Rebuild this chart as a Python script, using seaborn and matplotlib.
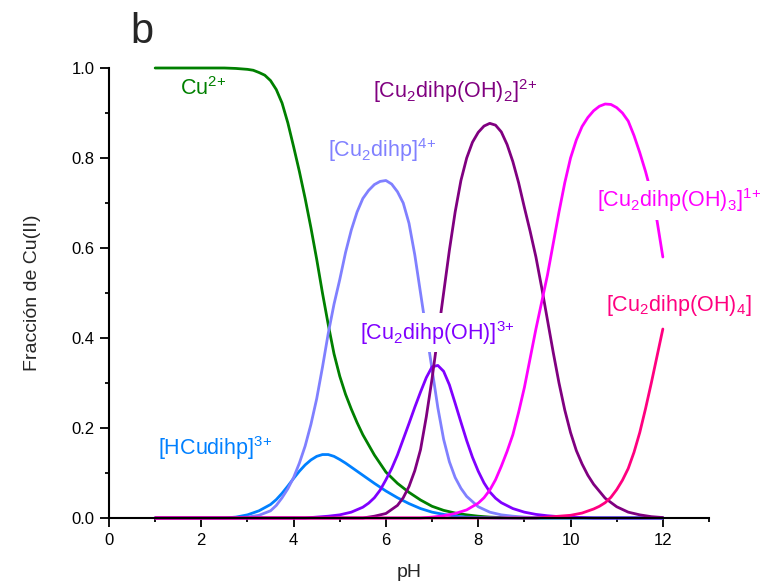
import matplotlib
matplotlib.use("Agg")
import matplotlib.pyplot as plt
import pandas as pd
import seaborn as sns
from matplotlib.ticker import MultipleLocator

# ---------------- data ----------------
# Cu2+
cu_ph = [1.0, 2.0, 2.5, 2.75, 3.0, 3.125, 3.25, 3.375, 3.5, 3.625, 3.75, 3.875,
         4.0, 4.125, 4.25, 4.375, 4.5, 4.625, 4.75, 4.875, 5.0, 5.125, 5.25,
         5.375, 5.5, 5.75, 6.0, 6.25, 6.5, 6.75, 7.0, 7.25, 7.5, 7.75, 8.0,
         8.25, 8.5, 9.0, 12.0]
cu_fr = [1.0, 1.0, 1.0, 0.999, 0.997, 0.995, 0.99, 0.984, 0.972, 0.952, 0.922, 0.878,
         0.825, 0.77, 0.71, 0.645, 0.575, 0.50, 0.43, 0.365, 0.315, 0.275, 0.242,
         0.212, 0.185, 0.14, 0.102, 0.077, 0.057, 0.04, 0.026, 0.017, 0.011, 0.007, 0.004,
         0.002, 0.001, 0.0, 0.0]

# [HCudihp]3+
hcu_ph = [1.0, 2.5, 2.75, 3.0, 3.25, 3.5, 3.625, 3.75, 3.875, 4.0, 4.125, 4.25,
          4.375, 4.5, 4.625, 4.75, 4.875, 5.0, 5.125, 5.25, 5.5, 5.75, 6.0, 6.25,
          6.5, 6.75, 7.0, 7.25, 7.5, 7.75, 8.0, 8.5, 12.0]
hcu_fr = [0.0, 0.0, 0.002, 0.007, 0.016, 0.03, 0.041, 0.055, 0.071, 0.088, 0.104, 0.118,
          0.129, 0.137, 0.141, 0.141, 0.137, 0.13, 0.122, 0.113, 0.095, 0.077, 0.06, 0.045,
          0.032, 0.021, 0.013, 0.008, 0.004, 0.002, 0.001, 0.0, 0.0]

# [Cu2dihp]4+
c2_ph = [1.0, 2.75, 3.0, 3.25, 3.5, 3.625, 3.75, 3.875, 4.0, 4.125, 4.25, 4.375,
         4.5, 4.625, 4.75, 4.875, 5.0, 5.125, 5.25, 5.375, 5.5, 5.625, 5.75, 5.875,
         6.0, 6.125, 6.25, 6.375, 6.5, 6.625, 6.75, 6.875, 7.0, 7.125, 7.25, 7.375,
         7.5, 7.625, 7.75, 8.0, 8.25, 8.5, 8.75, 9.0, 9.25, 9.5, 12.0]
c2_fr = [0.0, 0.0, 0.002, 0.006, 0.016, 0.028, 0.045, 0.065, 0.09, 0.122, 0.16, 0.208,
         0.265, 0.335, 0.41, 0.475, 0.53, 0.59, 0.64, 0.68, 0.71, 0.728, 0.741, 0.748,
         0.75, 0.742, 0.725, 0.70, 0.655, 0.585, 0.50, 0.415, 0.33, 0.245, 0.175, 0.125,
         0.09, 0.066, 0.048, 0.025, 0.013, 0.007, 0.004, 0.002, 0.001, 0.0, 0.0]

# [Cu2dihp(OH)]3+
oh1_ph = [1.0, 4.25, 4.5, 4.75, 5.0, 5.25, 5.5, 5.625, 5.75, 5.875, 6.0, 6.125,
          6.25, 6.375, 6.5, 6.625, 6.75, 6.875, 7.0, 7.125, 7.25, 7.375, 7.5, 7.625,
          7.75, 7.875, 8.0, 8.125, 8.25, 8.375, 8.5, 8.75, 9.0, 9.25, 9.5, 9.75,
          10.0, 10.25, 10.5, 12.0]
oh1_fr = [0.0, 0.0, 0.002, 0.004, 0.007, 0.013, 0.024, 0.033, 0.045, 0.062, 0.085, 0.11,
          0.14, 0.175, 0.21, 0.246, 0.28, 0.312, 0.336, 0.339, 0.326, 0.296, 0.255, 0.213,
          0.172, 0.135, 0.104, 0.078, 0.058, 0.044, 0.034, 0.021, 0.013, 0.008, 0.005, 0.003,
          0.002, 0.001, 0.0, 0.0]

# [Cu2dihp(OH)2]2+
oh2_ph = [1.0, 5.5, 5.75, 6.0, 6.25, 6.375, 6.5, 6.625, 6.75, 6.875, 7.0, 7.125,
          7.25, 7.375, 7.5, 7.625, 7.75, 7.875, 8.0, 8.125, 8.25, 8.375, 8.5, 8.625,
          8.75, 8.875, 9.0, 9.125, 9.25, 9.375, 9.5, 9.625, 9.75, 9.875, 10.0, 10.125,
          10.25, 10.375, 10.5, 10.75, 11.0, 11.25, 11.5, 11.75, 12.0]
oh2_fr = [0.0, 0.0, 0.004, 0.01, 0.028, 0.045, 0.07, 0.105, 0.152, 0.225, 0.31, 0.405,
          0.50, 0.595, 0.68, 0.75, 0.80, 0.835, 0.857, 0.871, 0.877, 0.873, 0.858, 0.83,
          0.792, 0.745, 0.69, 0.637, 0.58, 0.512, 0.44, 0.368, 0.30, 0.24, 0.19, 0.15,
          0.12, 0.095, 0.075, 0.044, 0.025, 0.013, 0.007, 0.003, 0.001]

# [Cu2dihp(OH)3]1+
oh3_ph = [1.0, 6.75, 7.0, 7.25, 7.5, 7.75, 8.0, 8.125, 8.25, 8.375, 8.5, 8.625,
          8.75, 8.875, 9.0, 9.125, 9.25, 9.375, 9.5, 9.625, 9.75, 9.875, 10.0, 10.125,
          10.25, 10.375, 10.5, 10.625, 10.75, 10.875, 11.0, 11.125, 11.25, 11.375, 11.5, 11.625,
          11.75, 11.875, 12.0]
oh3_fr = [0.0, 0.0, 0.002, 0.005, 0.01, 0.018, 0.033, 0.045, 0.062, 0.085, 0.115, 0.148,
          0.185, 0.235, 0.29, 0.355, 0.42, 0.48, 0.54, 0.61, 0.68, 0.745, 0.80, 0.84,
          0.87, 0.89, 0.905, 0.915, 0.92, 0.919, 0.912, 0.90, 0.882, 0.85, 0.812, 0.77,
          0.722, 0.66, 0.58]

# [Cu2dihp(OH)4]
oh4_ph = [1.0, 9.25, 9.5, 9.75, 10.0, 10.25, 10.5, 10.625, 10.75, 10.875, 11.0, 11.125,
          11.25, 11.375, 11.5, 11.625, 11.75, 11.875, 12.0]
oh4_fr = [0.0, 0.0, 0.002, 0.004, 0.006, 0.011, 0.02, 0.026, 0.034, 0.046, 0.063, 0.084,
          0.11, 0.146, 0.19, 0.243, 0.30, 0.36, 0.42]

species = ["Cu2+", "HCudihp", "Cu2dihp", "Cu2dihp(OH)", "Cu2dihp(OH)2",
           "Cu2dihp(OH)3", "Cu2dihp(OH)4"]
colors = ["#008000", "#0080FF", "#8080FF", "#8000FF", "#800080", "#FF00FF", "#FF0080"]
xs = [cu_ph, hcu_ph, c2_ph, oh1_ph, oh2_ph, oh3_ph, oh4_ph]
ys = [cu_fr, hcu_fr, c2_fr, oh1_fr, oh2_fr, oh3_fr, oh4_fr]

label_texts = [r"Cu$^{2\!+}$", r"[HCudihp]$^{3\!+}$", r"[Cu$_2$dihp]$^{4\!+}$",
               r"[Cu$_2$dihp(OH)]$^{3\!+}$", r"[Cu$_2$dihp(OH)$_2$]$^{2\!+}$",
               r"[Cu$_2$dihp(OH)$_3$]$^{1\!+}$", r"[Cu$_2$dihp(OH)$_4$]"]
label_x = [1.54, 1.06, 4.75, 5.44, 5.72, 10.58, 10.76]
label_y = [0.94, 0.14, 0.802, 0.396, 0.933, 0.691, 0.46]

xticks = [0, 2, 4, 6, 8, 10, 12]
yticks = [0.0, 0.2, 0.4, 0.6, 0.8, 1.0]

# ---------------- style ----------------
sns.set_style("ticks")
plt.rcParams["font.family"] = ["Liberation Sans", "DejaVu Sans"]
plt.rcParams["mathtext.fontset"] = "custom"
plt.rcParams["mathtext.rm"] = "Liberation Sans"
plt.rcParams["mathtext.it"] = "Liberation Sans"
plt.rcParams["mathtext.default"] = "regular"

fig = plt.figure(figsize=(7.65, 5.87), dpi=100)
ax = fig.add_axes([109 / 765, 1 - 518 / 587, 600 / 765, 450 / 587])

frames = []
for name, x, y in zip(species, xs, ys):
    frames.append(pd.DataFrame({"pH": x, "frac": y, "species": name}))
long = pd.concat(frames, ignore_index=True)

for name, col in zip(species, colors):
    sub = long[long["species"] == name]
    sns.lineplot(data=sub, x="pH", y="frac", color=col, linewidth=2.0,
                 ax=ax, clip_on=False, legend=False, sort=True,
                 estimator=None)

for txt, x, y, col in zip(label_texts, label_x, label_y, colors):
    ax.text(x, y, txt, color=col, fontsize=15.5, ha="left", va="baseline",
            zorder=10,
            bbox=dict(facecolor="white", edgecolor="none", pad=4))

ax.set_xlim(0, 13)
ax.set_ylim(0, 1.0)
ax.set_xticks(xticks)
ax.set_xticklabels([str(v) for v in xticks])
ax.set_yticks(yticks)
ax.set_yticklabels([f"{v:.1f}" for v in yticks])
ax.xaxis.set_minor_locator(MultipleLocator(1))
ax.yaxis.set_minor_locator(MultipleLocator(0.1))

sns.despine(ax=ax, top=True, right=True)
for sp in ("left", "bottom"):
    ax.spines[sp].set_linewidth(1.5)
    ax.spines[sp].set_color("black")

ax.tick_params(axis="both", which="major", direction="out", length=6.5,
               width=1.3, labelsize=12, color="black", labelcolor="black")
ax.tick_params(axis="both", which="minor", direction="out", length=3,
               width=1.3, color="black")
ax.tick_params(axis="y", which="major", pad=4)
ax.tick_params(axis="x", which="major", pad=4)

ax.set_xlabel("pH", fontsize=14, labelpad=12)
ax.set_ylabel("Fracción de Cu(II)", fontsize=14, labelpad=22)

fig.text(130 / 765, 1 - 43 / 587, "b", fontsize=30, ha="left", va="baseline")

fig.savefig("out.png", dpi=100)
